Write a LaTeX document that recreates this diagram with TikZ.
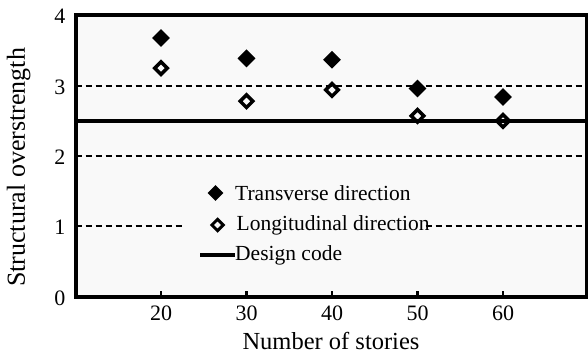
\documentclass[tikz,border=0pt]{standalone}
\usepackage{fontspec}
\setmainfont{Liberation Serif}
\usetikzlibrary{shapes.geometric}
\definecolor{plotbg}{gray}{0.975}
\tikzset{
  tmark/.style={diamond, shape aspect=1, fill=black, inner sep=0pt,
    minimum width=18pt, minimum height=18pt},
  lmark/.style={diamond, shape aspect=1, draw=black, line width=3.5pt,
    inner sep=0pt, minimum width=14pt, minimum height=14pt},
  gridline/.style={line width=2.4pt, dash pattern=on 6.5pt off 3.5pt},
  codeline/.style={line width=3.6pt},
  frame/.style={line width=4pt},
  ticklabel/.style={font=\fontsize{22}{22}\selectfont, inner sep=0pt},
  legendtext/.style={font=\fontsize{21.5}{21.5}\selectfont, inner sep=0pt, anchor=base west},
}
\begin{document}
\begin{tikzpicture}[x=1pt,y=1pt]
\useasboundingbox (0,0) rectangle (588,354);

% data area: x in stories, y in overstrength
\begin{scope}[x=8.55pt, y=70.25pt, shift={(-10pt,57.5pt)}]
  \coordinate (ll) at (10,0);
  \coordinate (ur) at (69.8,4);
  \fill[plotbg] (ll) rectangle (ur);

  % dashed reference lines
  \foreach \v in {1,2,3} {
    \coordinate (gL\v) at (10,\v);
    \coordinate (gR\v) at (69.8,\v);
    \draw[gridline] (gL\v) -- (gR\v);
  }

  % design code level
  \coordinate (dcL) at (10,2.5);
  \coordinate (dcR) at (69.8,2.5);
  \draw[codeline] (dcL) -- (dcR);

  % transverse direction
  \node[tmark] (t20) at (20,3.68) {};
  \node[tmark] (t30) at (30,3.39) {};
  \node[tmark] (t40) at (40,3.37) {};
  \node[tmark] (t50) at (50,2.96) {};
  \node[tmark] (t60) at (60,2.84) {};

  % longitudinal direction
  \node[lmark] (l20) at (20,3.25) {};
  \node[lmark] (l30) at (30,2.78) {};
  \node[lmark] (l40) at (40,2.94) {};
  \node[lmark] (l50) at (50,2.57) {};
  \node[lmark] (l60) at (60,2.50) {};

  % x ticks and labels
  \foreach \s in {20,30,40,50,60} {
    \coordinate (tk\s) at (\s,0);
    \draw[line width=2.8pt] (tk\s) -- ++(0,5.5pt);
    \node[ticklabel, anchor=base] (xl\s) at ([yshift=-23.5pt]tk\s) {\s};
  }

  % y tick labels
  \foreach \v in {0,1,2,3,4} {
    \coordinate (yt\v) at (10,\v);
    \node[ticklabel, anchor=base east] (yl\v) at ([xshift=-10pt,yshift=-8.5pt]yt\v) {\v};
  }
\end{scope}

% legend (its panel hides the dashed line behind it)
\fill[plotbg] (183,86) rectangle (423,174);
\node[tmark, minimum width=16pt, minimum height=16pt] (lgT) at (215.5,161) {};
\node[legendtext] (lgTt) at (235,154) {Transverse direction};
\node[lmark, minimum width=12.5pt, minimum height=12.5pt, line width=3pt] (lgL) at (217.5,129) {};
\node[legendtext] (lgLt) at (236.5,124) {Longitudinal direction};
\coordinate (lgDa) at (200,99);
\coordinate (lgDb) at (235,99);
\draw[codeline] (lgDa) -- (lgDb);
\node[legendtext] (lgDt) at (235,94) {Design code};

% frame
\draw[frame] (ll) rectangle (ur);

% axis titles
\node[font=\fontsize{24.5}{24.5}\selectfont, inner sep=0pt, anchor=base] (xt) at (331,5) {Number of stories};
\node[font=\fontsize{26}{26}\selectfont, inner sep=0pt, anchor=base, rotate=90] (yt) at (25,186.5) {Structural overstrength};
\end{tikzpicture}
\end{document}
